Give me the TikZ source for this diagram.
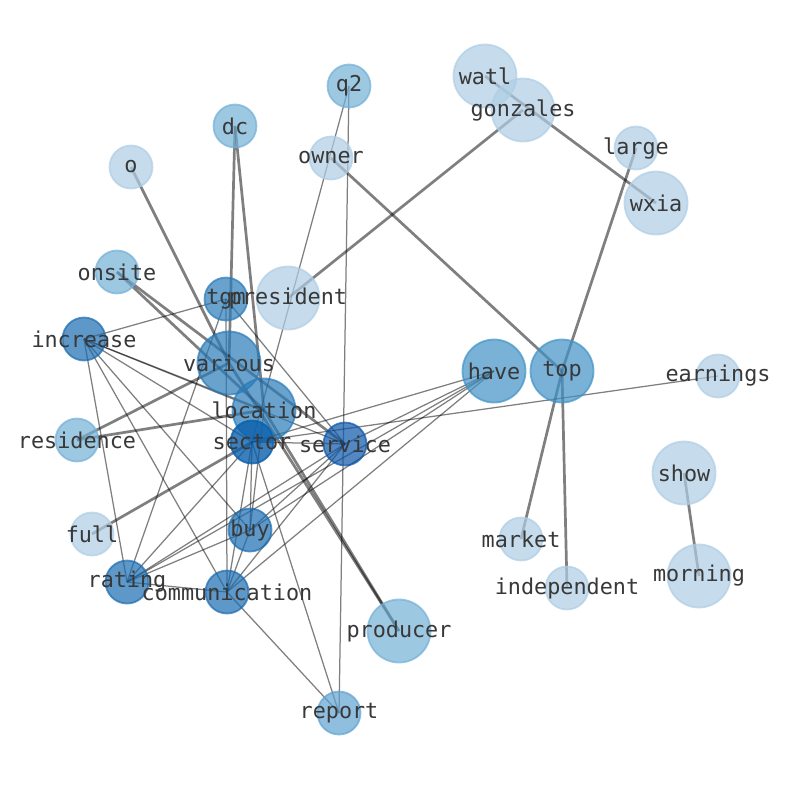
\documentclass[tikz,border=0pt]{standalone}
\usepackage{fontspec}
\setmainfont{DejaVu Sans Mono}
\definecolor{cA}{HTML}{AECDE4}
\definecolor{cB}{HTML}{73B0D6}
\definecolor{cR}{HTML}{5FA3D2}
\definecolor{cC}{HTML}{4192C6}
\definecolor{cD}{HTML}{2A7BB8}
\definecolor{cE}{HTML}{1A6CB0}
\definecolor{cF}{HTML}{0C56A8}
\definecolor{cG}{HTML}{0A5FAC}
\definecolor{txt}{HTML}{383838}
\tikzset{
  te/.style={draw=black, draw opacity=0.5, line width=1.25pt},
  tk/.style={draw=black, draw opacity=0.5, line width=2.7pt},
  big/.style={circle, minimum size=63pt, inner sep=0pt, line width=1.8pt, fill opacity=0.7, draw opacity=0.7},
  small/.style={circle, minimum size=43pt, inner sep=0pt, line width=1.8pt, fill opacity=0.7, draw opacity=0.7},
  lbl/.style={text=txt, inner sep=0pt, font=\fontsize{21.8pt}{26pt}\selectfont}
}
\begin{document}
\begin{tikzpicture}[x=1pt,y=-1pt]
\useasboundingbox (0,0) rectangle (794,790);
% positions
\coordinate (q2) at (349,86);
\coordinate (watl) at (485,76);
\coordinate (gonzales) at (523,110);
\coordinate (large) at (636,148);
\coordinate (wxia) at (656,203);
\coordinate (owner) at (331,158);
\coordinate (dc) at (235,126);
\coordinate (o) at (131,167);
\coordinate (onsite) at (117,272);
\coordinate (tgm) at (226,299);
\coordinate (president) at (288,298);
\coordinate (increase) at (84,339);
\coordinate (various) at (229,363);
\coordinate (location) at (264,410);
\coordinate (residence) at (77,440);
\coordinate (sector) at (252,442);
\coordinate (service) at (345,444);
\coordinate (have) at (494,371);
\coordinate (top) at (562,371);
\coordinate (earnings) at (718,376);
\coordinate (show) at (684,473);
\coordinate (market) at (521,539);
\coordinate (independent) at (567,588);
\coordinate (morning) at (699,576);
\coordinate (producer) at (399,631);
\coordinate (full) at (92,534);
\coordinate (buy) at (250,530);
\coordinate (rating) at (127,582);
\coordinate (communication) at (227,592);
\coordinate (report) at (339,713);
% thin edges
\draw[te] (increase) -- (tgm);
\draw[te] (increase) -- (location);
\draw[te] (increase) -- (service);
\draw[te] (increase) -- (sector);
\draw[te] (increase) -- (buy);
\draw[te] (increase) -- (communication);
\draw[te] (increase) -- (rating);
\draw[te] (tgm) -- (communication);
\draw[te] (tgm) -- (rating);
\draw[te] (tgm) -- (service);
\draw[te] (q2) -- (sector);
\draw[te] (q2) -- (report);
\draw[te] (sector) -- (earnings);
\draw[te] (sector) -- (have);
\draw[te] (sector) -- (report);
\draw[te] (sector) -- (service);
\draw[te] (sector) -- (buy);
\draw[te] (sector) -- (communication);
\draw[te] (sector) -- (rating);
\draw[te] (have) -- (service);
\draw[te] (have) -- (buy);
\draw[te] (have) -- (communication);
\draw[te] (have) -- (rating);
\draw[te] (service) -- (buy);
\draw[te] (service) -- (communication);
\draw[te] (service) -- (rating);
\draw[te] (buy) -- (communication);
\draw[te] (buy) -- (rating);
\draw[te] (rating) -- (communication);
\draw[te] (location) -- (buy);
\draw[te] (communication) -- (report);
% thick edges
\draw[tk] (gonzales) -- (president);
\draw[tk] (watl) -- (wxia);
\draw[tk] (owner) -- (top);
\draw[tk] (large) -- (top);
\draw[tk] (top) -- (market);
\draw[tk] (top) -- (independent);
\draw[tk] (show) -- (morning);
\draw[tk] (o) -- (various);
\draw[tk] (dc) -- (various);
\draw[tk] (dc) -- (location);
\draw[tk] (onsite) -- (location);
\draw[tk] (onsite) -- (service);
\draw[tk] (residence) -- (various);
\draw[tk] (residence) -- (location);
\draw[tk] (full) -- (sector);
\draw[tk] (producer) -- (location);
\draw[tk] (producer) -- (various);
% nodes
\node[small, fill=cB, draw=cB] (q2-c) at (q2) {};
\node[big, fill=cA, draw=cA] (watl-c) at (watl) {};
\node[big, fill=cA, draw=cA] (gonzales-c) at (gonzales) {};
\node[small, fill=cA, draw=cA] (large-c) at (large) {};
\node[big, fill=cA, draw=cA] (wxia-c) at (wxia) {};
\node[small, fill=cA, draw=cA] (owner-c) at (owner) {};
\node[small, fill=cB, draw=cB] (dc-c) at (dc) {};
\node[small, fill=cA, draw=cA] (o-c) at (o) {};
\node[small, fill=cB, draw=cB] (onsite-c) at (onsite) {};
\node[small, fill=cD, draw=cD] (tgm-c) at (tgm) {};
\node[big, fill=cA, draw=cA] (president-c) at (president) {};
\node[small, fill=cE, draw=cE] (increase-c) at (increase) {};
\node[big, fill=cD, draw=cD] (various-c) at (various) {};
\node[big, fill=cD, draw=cD] (location-c) at (location) {};
\node[small, fill=cB, draw=cB] (residence-c) at (residence) {};
\node[small, fill=cG, draw=cG, fill opacity=0.8, draw opacity=0.8] (sector-c) at (sector) {};
\node[small, fill=cF, draw=cF] (service-c) at (service) {};
\node[big, fill=cC, draw=cC] (have-c) at (have) {};
\node[big, fill=cC, draw=cC] (top-c) at (top) {};
\node[small, fill=cA, draw=cA] (earnings-c) at (earnings) {};
\node[big, fill=cA, draw=cA] (show-c) at (show) {};
\node[small, fill=cA, draw=cA] (market-c) at (market) {};
\node[small, fill=cA, draw=cA] (independent-c) at (independent) {};
\node[big, fill=cA, draw=cA] (morning-c) at (morning) {};
\node[big, fill=cB, draw=cB] (producer-c) at (producer) {};
\node[small, fill=cA, draw=cA] (full-c) at (full) {};
\node[small, fill=cE, draw=cE] (buy-c) at (buy) {};
\node[small, fill=cE, draw=cE] (rating-c) at (rating) {};
\node[small, fill=cE, draw=cE] (communication-c) at (communication) {};
\node[small, fill=cR, draw=cR] (report-c) at (report) {};
% labels
\node[lbl] (q2-t) at (q2) {q2};
\node[lbl] (watl-t) at (watl) {watl};
\node[lbl] (gonzales-t) at (gonzales) {gonzales};
\node[lbl] (large-t) at (large) {large};
\node[lbl] (wxia-t) at (wxia) {wxia};
\node[lbl] (owner-t) at (owner) {owner};
\node[lbl] (dc-t) at (dc) {dc};
\node[lbl] (o-t) at (o) {o};
\node[lbl] (onsite-t) at (onsite) {onsite};
\node[lbl] (tgm-t) at (tgm) {tgm};
\node[lbl] (president-t) at (president) {president};
\node[lbl] (increase-t) at (increase) {increase};
\node[lbl] (various-t) at (various) {various};
\node[lbl] (location-t) at (location) {location};
\node[lbl] (residence-t) at (residence) {residence};
\node[lbl] (sector-t) at (sector) {sector};
\node[lbl] (service-t) at (service) {service};
\node[lbl] (have-t) at (have) {have};
\node[lbl] (top-t) at (top) {top};
\node[lbl] (earnings-t) at (earnings) {earnings};
\node[lbl] (show-t) at (show) {show};
\node[lbl] (market-t) at (market) {market};
\node[lbl] (independent-t) at (independent) {independent};
\node[lbl] (morning-t) at (morning) {morning};
\node[lbl] (producer-t) at (producer) {producer};
\node[lbl] (full-t) at (full) {full};
\node[lbl] (buy-t) at (buy) {buy};
\node[lbl] (rating-t) at (rating) {rating};
\node[lbl] (communication-t) at (communication) {communication};
\node[lbl] (report-t) at (report) {report};
\end{tikzpicture}
\end{document}
